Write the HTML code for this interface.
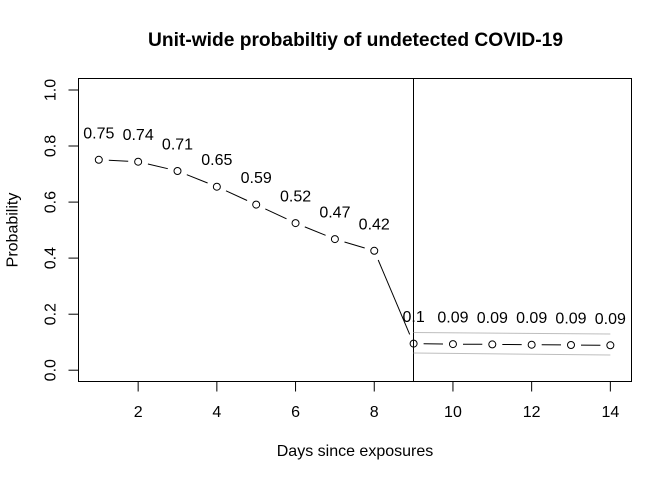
<!DOCTYPE html>
<html><head><meta charset="utf-8"><style>
html,body{margin:0;padding:0;background:#fff;}
svg{display:block;}
text{font-family:"Liberation Sans",Arial,sans-serif;fill:#000;}
</style></head><body>
<svg width="672" height="480" viewBox="0 0 672 480" xmlns="http://www.w3.org/2000/svg">
<rect x="0" y="0" width="672" height="480" fill="#fff"/>
<text x="355.5" y="46" font-size="19" font-weight="bold" text-anchor="middle" textLength="415" lengthAdjust="spacingAndGlyphs">Unit-wide probabiltiy of undetected COVID-19</text>
<rect x="78.5" y="78.5" width="553" height="303" fill="none" stroke="#000" stroke-width="1"/>
<!-- x axis -->
<g stroke="#000" stroke-width="1">
<line x1="138.15" y1="381.5" x2="610.35" y2="381.5"/>
<line x1="138.15" y1="381.5" x2="138.15" y2="391.5"/>
<line x1="216.85" y1="381.5" x2="216.85" y2="391.5"/>
<line x1="295.55" y1="381.5" x2="295.55" y2="391.5"/>
<line x1="374.25" y1="381.5" x2="374.25" y2="391.5"/>
<line x1="452.95" y1="381.5" x2="452.95" y2="391.5"/>
<line x1="531.65" y1="381.5" x2="531.65" y2="391.5"/>
<line x1="610.35" y1="381.5" x2="610.35" y2="391.5"/>
</g>
<g font-size="16" text-anchor="middle">
<text x="138.15" y="417">2</text>
<text x="216.85" y="417">4</text>
<text x="295.55" y="417">6</text>
<text x="374.25" y="417">8</text>
<text x="452.95" y="417">10</text>
<text x="531.65" y="417">12</text>
<text x="610.35" y="417">14</text>
</g>
<text x="355" y="456" font-size="16" text-anchor="middle">Days since exposures</text>
<!-- y axis -->
<g stroke="#000" stroke-width="1">
<line x1="78.5" y1="90" x2="78.5" y2="370.2"/>
<line x1="68.5" y1="370.2" x2="78.5" y2="370.2"/>
<line x1="68.5" y1="314.2" x2="78.5" y2="314.2"/>
<line x1="68.5" y1="258.1" x2="78.5" y2="258.1"/>
<line x1="68.5" y1="202.1" x2="78.5" y2="202.1"/>
<line x1="68.5" y1="146.0" x2="78.5" y2="146.0"/>
<line x1="68.5" y1="90.0" x2="78.5" y2="90.0"/>
</g>
<g font-size="16" text-anchor="middle">
<text transform="translate(55.5,370.2) rotate(-90)">0.0</text>
<text transform="translate(55.5,314.2) rotate(-90)">0.2</text>
<text transform="translate(55.5,258.1) rotate(-90)">0.4</text>
<text transform="translate(55.5,202.1) rotate(-90)">0.6</text>
<text transform="translate(55.5,146.0) rotate(-90)">0.8</text>
<text transform="translate(55.5,90.0) rotate(-90)">1.0</text>
</g>
<text transform="translate(17.5,230) rotate(-90)" font-size="16" text-anchor="middle">Probability</text>
<!-- vertical line -->
<line x1="413.5" y1="78.5" x2="413.5" y2="381.5" stroke="#000" stroke-width="1"/>
<!-- gray band lines -->
<line x1="413.6" y1="332.5" x2="610.35" y2="334" stroke="#bebebe" stroke-width="1"/>
<line x1="413.6" y1="353" x2="610.35" y2="355" stroke="#bebebe" stroke-width="1"/>
<!-- series segments -->
<g stroke="#000" stroke-width="1" fill="none">
<line x1="108.8" y1="160.3" x2="128.2" y2="161.2"/>
<line x1="147.9" y1="164.0" x2="167.8" y2="168.7"/>
<line x1="186.8" y1="174.7" x2="207.6" y2="183.0"/>
<line x1="226.0" y1="190.8" x2="247.1" y2="200.5"/>
<line x1="265.3" y1="208.9" x2="286.5" y2="218.8"/>
<line x1="304.8" y1="226.9" x2="325.6" y2="235.3"/>
<line x1="344.5" y1="242.0" x2="364.7" y2="248.0"/>
<line x1="378.2" y1="260.0" x2="409.7" y2="334.4"/>
<line x1="423.6" y1="343.7" x2="443.0" y2="344.0"/>
<line x1="463.0" y1="344.2" x2="482.3" y2="344.3"/>
<line x1="502.3" y1="344.5" x2="521.7" y2="344.6"/>
<line x1="541.7" y1="344.8" x2="561.0" y2="344.9"/>
<line x1="581.0" y1="345.1" x2="600.4" y2="345.2"/>
</g>
<g stroke="#000" stroke-width="1" fill="none">
<circle cx="98.8" cy="159.8" r="3.5"/>
<circle cx="138.15" cy="161.7" r="3.5"/>
<circle cx="177.5" cy="171.0" r="3.5"/>
<circle cx="216.85" cy="186.7" r="3.5"/>
<circle cx="256.2" cy="204.6" r="3.5"/>
<circle cx="295.55" cy="223.1" r="3.5"/>
<circle cx="334.9" cy="239.1" r="3.5"/>
<circle cx="374.25" cy="250.8" r="3.5"/>
<circle cx="413.6" cy="343.6" r="3.5"/>
<circle cx="452.95" cy="344.1" r="3.5"/>
<circle cx="492.3" cy="344.4" r="3.5"/>
<circle cx="531.65" cy="344.7" r="3.5"/>
<circle cx="571.0" cy="345.0" r="3.5"/>
<circle cx="610.35" cy="345.3" r="3.5"/>
</g>
<g font-size="16" text-anchor="middle">
<text x="98.8" y="138.3">0.75</text>
<text x="138.15" y="140.2">0.74</text>
<text x="177.5" y="149.5">0.71</text>
<text x="216.85" y="165.2">0.65</text>
<text x="256.2" y="183.1">0.59</text>
<text x="295.55" y="201.6">0.52</text>
<text x="334.9" y="217.6">0.47</text>
<text x="374.25" y="229.3">0.42</text>
<text x="413.6" y="322.1">0.1</text>
<text x="452.95" y="322.6">0.09</text>
<text x="492.3" y="322.9">0.09</text>
<text x="531.65" y="323.2">0.09</text>
<text x="571.0" y="323.5">0.09</text>
<text x="610.35" y="323.8">0.09</text>
</g>
</svg>
</body></html>
